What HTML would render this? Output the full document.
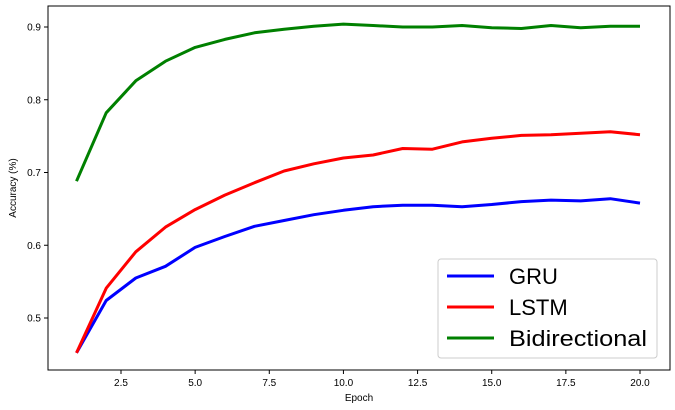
<!DOCTYPE html>
<html><head><meta charset="utf-8"><style>
body{margin:0;background:#fff;}
svg{display:block;font-family:"Liberation Sans","DejaVu Sans",sans-serif;}
</style></head><body>
<svg id="chart" width="675" height="410" viewBox="0 0 675 410" xmlns="http://www.w3.org/2000/svg">
<rect x="0" y="0" width="675" height="410" fill="#fff"/>
<g id="series"></g>
<g id="axes"></g>
<g id="legend"></g>
</svg>
<script>
const epochs=[1,2,3,4,5,6,7,8,9,10,11,12,13,14,15,16,17,18,19,20];
const gru=[0.452,0.524,0.555,0.571,0.597,0.612,0.626,0.634,0.642,0.648,0.653,0.655,0.655,0.653,0.656,0.660,0.662,0.661,0.664,0.658];
const lstm=[0.452,0.541,0.591,0.625,0.649,0.669,0.686,0.702,0.712,0.720,0.724,0.733,0.732,0.742,0.747,0.751,0.752,0.754,0.756,0.752];
const bidir=[0.688,0.782,0.826,0.853,0.872,0.883,0.892,0.897,0.901,0.904,0.902,0.900,0.900,0.902,0.899,0.898,0.902,0.899,0.901,0.901];
const xTicks=[2.5,5.0,7.5,10.0,12.5,15.0,17.5,20.0];
const yTicks=[0.5,0.6,0.7,0.8,0.9];
const seriesNames=["GRU","LSTM","Bidirectional"];
const NS="http://www.w3.org/2000/svg";
const L=48,R=670,T=6,B=370;
function xs(v){return 121+(v-2.5)*(640-121)/17.5;}
function ys(v){return 318-(v-0.5)*(318-27)/0.4;}
function mk(tag,attrs,parent){const e=document.createElementNS(NS,tag);for(const k in attrs)e.setAttribute(k,attrs[k]);parent.appendChild(e);return e;}
const sg=document.getElementById('series'),ag=document.getElementById('axes'),lg=document.getElementById('legend');
const colors=["#0000ff","#ff0000","#008000"];
[gru,lstm,bidir].forEach((arr,i)=>{
  const p=mk('polyline',{points:arr.map((v,j)=>xs(epochs[j]).toFixed(1)+','+ys(v).toFixed(1)).join(' '),fill:'none',stroke:colors[i],'stroke-width':3,'stroke-linejoin':'round'},sg);
  
  
});
const frame=mk('rect',{x:L,y:T,width:R-L,height:B-T,fill:'none',stroke:'#000','stroke-width':1},ag);


xTicks.forEach(t=>{
  const x=xs(t);
  mk('line',{x1:x,y1:B,x2:x,y2:B+4,stroke:'#000'},ag);
  const tx=mk('text',{x:x,y:B+16,'font-size':10,'text-anchor':'middle',fill:'#000'},ag);
  tx.textContent=t.toFixed(1);
  
  
});
yTicks.forEach(t=>{
  const y=ys(t);
  mk('line',{x1:L-4,y1:y,x2:L,y2:y,stroke:'#000'},ag);
  const tx=mk('text',{x:L-7,y:y+3.5,'font-size':10,'text-anchor':'end',fill:'#000'},ag);
  tx.textContent=t.toFixed(1);
  
  
});
const xt=mk('text',{x:(L+R)/2,y:401,'font-size':10,'text-anchor':'middle'},ag);
xt.textContent='Epoch';


const yt=mk('text',{x:0,y:0,'font-size':10,'text-anchor':'middle',transform:'translate(16,'+((T+B)/2)+') rotate(-90)'},ag);
yt.textContent='Accuracy (%)';


const box=mk('rect',{x:438,y:259,width:219,height:99,rx:3,fill:'#fff','fill-opacity':0.8,stroke:'#ccc'},lg);


seriesNames.forEach((n,i)=>{
  const y=276+i*31;
  const ln=mk('line',{x1:447,y1:y,x2:494,y2:y,stroke:colors[i],'stroke-width':3},lg);
  
  
  const attrs={x:509,y:y+8,'font-size':22};
  if(i===2){attrs.textLength=138;attrs.lengthAdjust='spacingAndGlyphs';}
  const tx=mk('text',attrs,lg);
  tx.textContent=n;
  
  
});
</script>
</body></html>
